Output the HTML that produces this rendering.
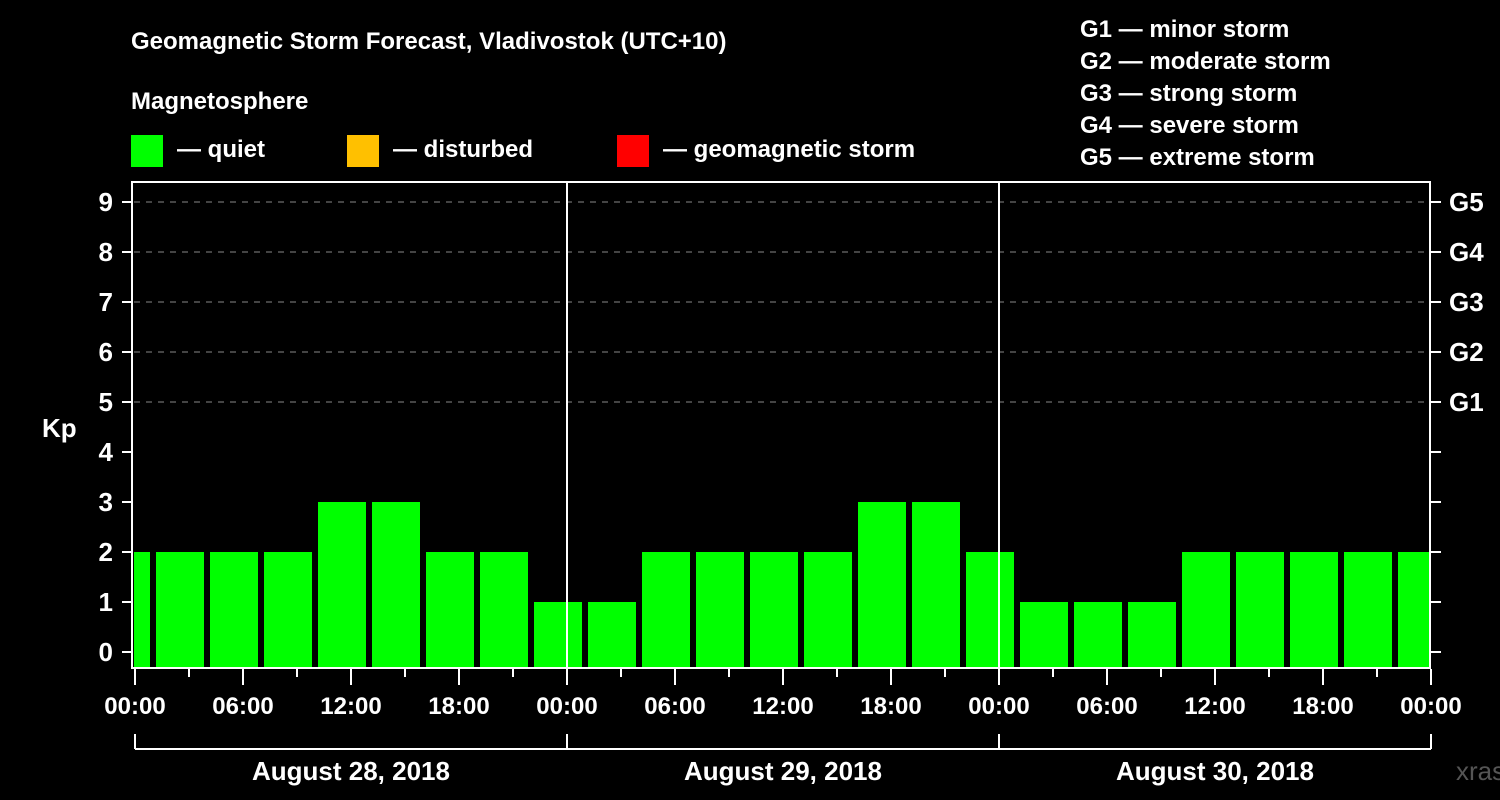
<!DOCTYPE html>
<html><head><meta charset="utf-8"><style>
html,body{margin:0;padding:0;background:#000;}
svg{display:block;font-family:"Liberation Sans",Arial,sans-serif;font-weight:bold;}
</style></head><body>
<svg width="1500" height="800" viewBox="0 0 1500 800">
<rect x="0" y="0" width="1500" height="800" fill="#000"/>
<text x="131" y="49" fill="#fff" font-size="24">Geomagnetic Storm Forecast, Vladivostok (UTC+10)</text>
<text x="131" y="109" fill="#fff" font-size="24">Magnetosphere</text>
<g><rect x="131" y="135" width="32" height="32" fill="#00ff00"/><text x="177" y="157" fill="#fff" font-size="24">— quiet</text></g>
<g><rect x="347" y="135" width="32" height="32" fill="#ffc000"/><text x="393" y="157" fill="#fff" font-size="24">— disturbed</text></g>
<g><rect x="617" y="135" width="32" height="32" fill="#ff0000"/><text x="663" y="157" fill="#fff" font-size="24">— geomagnetic storm</text></g>
<g fill="#fff" font-size="24">
<text x="1080" y="37">G1 — minor storm</text>
<text x="1080" y="69">G2 — moderate storm</text>
<text x="1080" y="101">G3 — strong storm</text>
<text x="1080" y="133">G4 — severe storm</text>
<text x="1080" y="165">G5 — extreme storm</text>
</g>
<text x="42" y="437" fill="#fff" font-size="26">Kp</text>
<text x="1456" y="780" fill="#555" font-size="26" font-weight="normal">xras.ru</text>
<defs><clipPath id="pc"><rect x="134" y="183" width="1295" height="484"/></clipPath></defs>
<g id="grid"></g>
<g id="bars" clip-path="url(#pc)"></g>
<g id="axes"></g>
</svg>
<script>
const kpValues=[2,2,2,2,3,3,2,2,1,1,2,2,2,2,3,3,2,1,1,1,2,2,2,2,2];
const barStartHours=[-2,1,4,7,10,13,16,19,22,25,28,31,34,37,40,43,46,49,52,55,58,61,64,67,70];
const yTicks=[0,1,2,3,4,5,6,7,8,9];
const gLabels=["G1","G2","G3","G4","G5"];
const xTickLabels=["00:00","06:00","12:00","18:00","00:00","06:00","12:00","18:00","00:00","06:00","12:00","18:00","00:00"];
const dayLabels=["August 28, 2018","August 29, 2018","August 30, 2018"];
const NS="http://www.w3.org/2000/svg";
const X=h=>135+h*18, Y=k=>652-50*k;
function mk(tag,attrs,parent,text){const e=document.createElementNS(NS,tag);for(const k in attrs)e.setAttribute(k,attrs[k]);if(text!==undefined)e.textContent=text;parent.appendChild(e);return e;}
const grid=document.getElementById('grid'),bars=document.getElementById('bars'),axes=document.getElementById('axes');
gLabels.forEach((g,i)=>{const k=5+i;
 const l=mk('line',{x1:134,x2:1430,y1:Y(k),y2:Y(k),stroke:'#888','stroke-width':1,'stroke-dasharray':'6,6'},grid);
 
 
 const t=mk('text',{x:1449,y:Y(k)+9,fill:'#fff','font-size':26},axes,g);
 
 
});
kpValues.forEach((v,i)=>{const s=barStartHours[i];
 const c=v>=5?'#ff0000':(v>=4?'#ffc000':'#00ff00');
 const r=mk('rect',{x:X(s)+3,y:Y(v),width:X(s+3)-X(s)-6,height:667-Y(v),fill:c},bars);
 
 
});
[1,2].forEach(d=>{const l=mk('line',{x1:X(24*d),x2:X(24*d),y1:182,y2:668,stroke:'#fff','stroke-width':2},axes);
 
 });
const fr=mk('rect',{x:132,y:182,width:1298,height:486,fill:'none',stroke:'#fff','stroke-width':2},axes);


yTicks.forEach(k=>{
 mk('line',{x1:122,x2:131,y1:Y(k),y2:Y(k),stroke:'#fff','stroke-width':2},axes);
 mk('line',{x1:1431,x2:1441,y1:Y(k),y2:Y(k),stroke:'#fff','stroke-width':2},axes);
 const t=mk('text',{x:113,y:Y(k)+9,fill:'#fff','font-size':26,'text-anchor':'end'},axes,String(k));
 
 
});
for(let h=0;h<=72;h+=3){mk('line',{x1:X(h),x2:X(h),y1:669,y2:h%6===0?685:677,stroke:'#fff','stroke-width':2},axes);}
xTickLabels.forEach((s,i)=>{const t=mk('text',{x:X(i*6),y:714,fill:'#fff','font-size':24,'text-anchor':'middle'},axes,s);
 
 });
mk('line',{x1:X(0),x2:X(72),y1:749,y2:749,stroke:'#fff','stroke-width':2},axes);
[0,24,48,72].forEach(h=>mk('line',{x1:X(h),x2:X(h),y1:734,y2:749,stroke:'#fff','stroke-width':2},axes));
dayLabels.forEach((s,i)=>{const t=mk('text',{x:X(i*24+12),y:780,fill:'#fff','font-size':26,'text-anchor':'middle'},axes,s);
 
 });
</script>
</body></html>
